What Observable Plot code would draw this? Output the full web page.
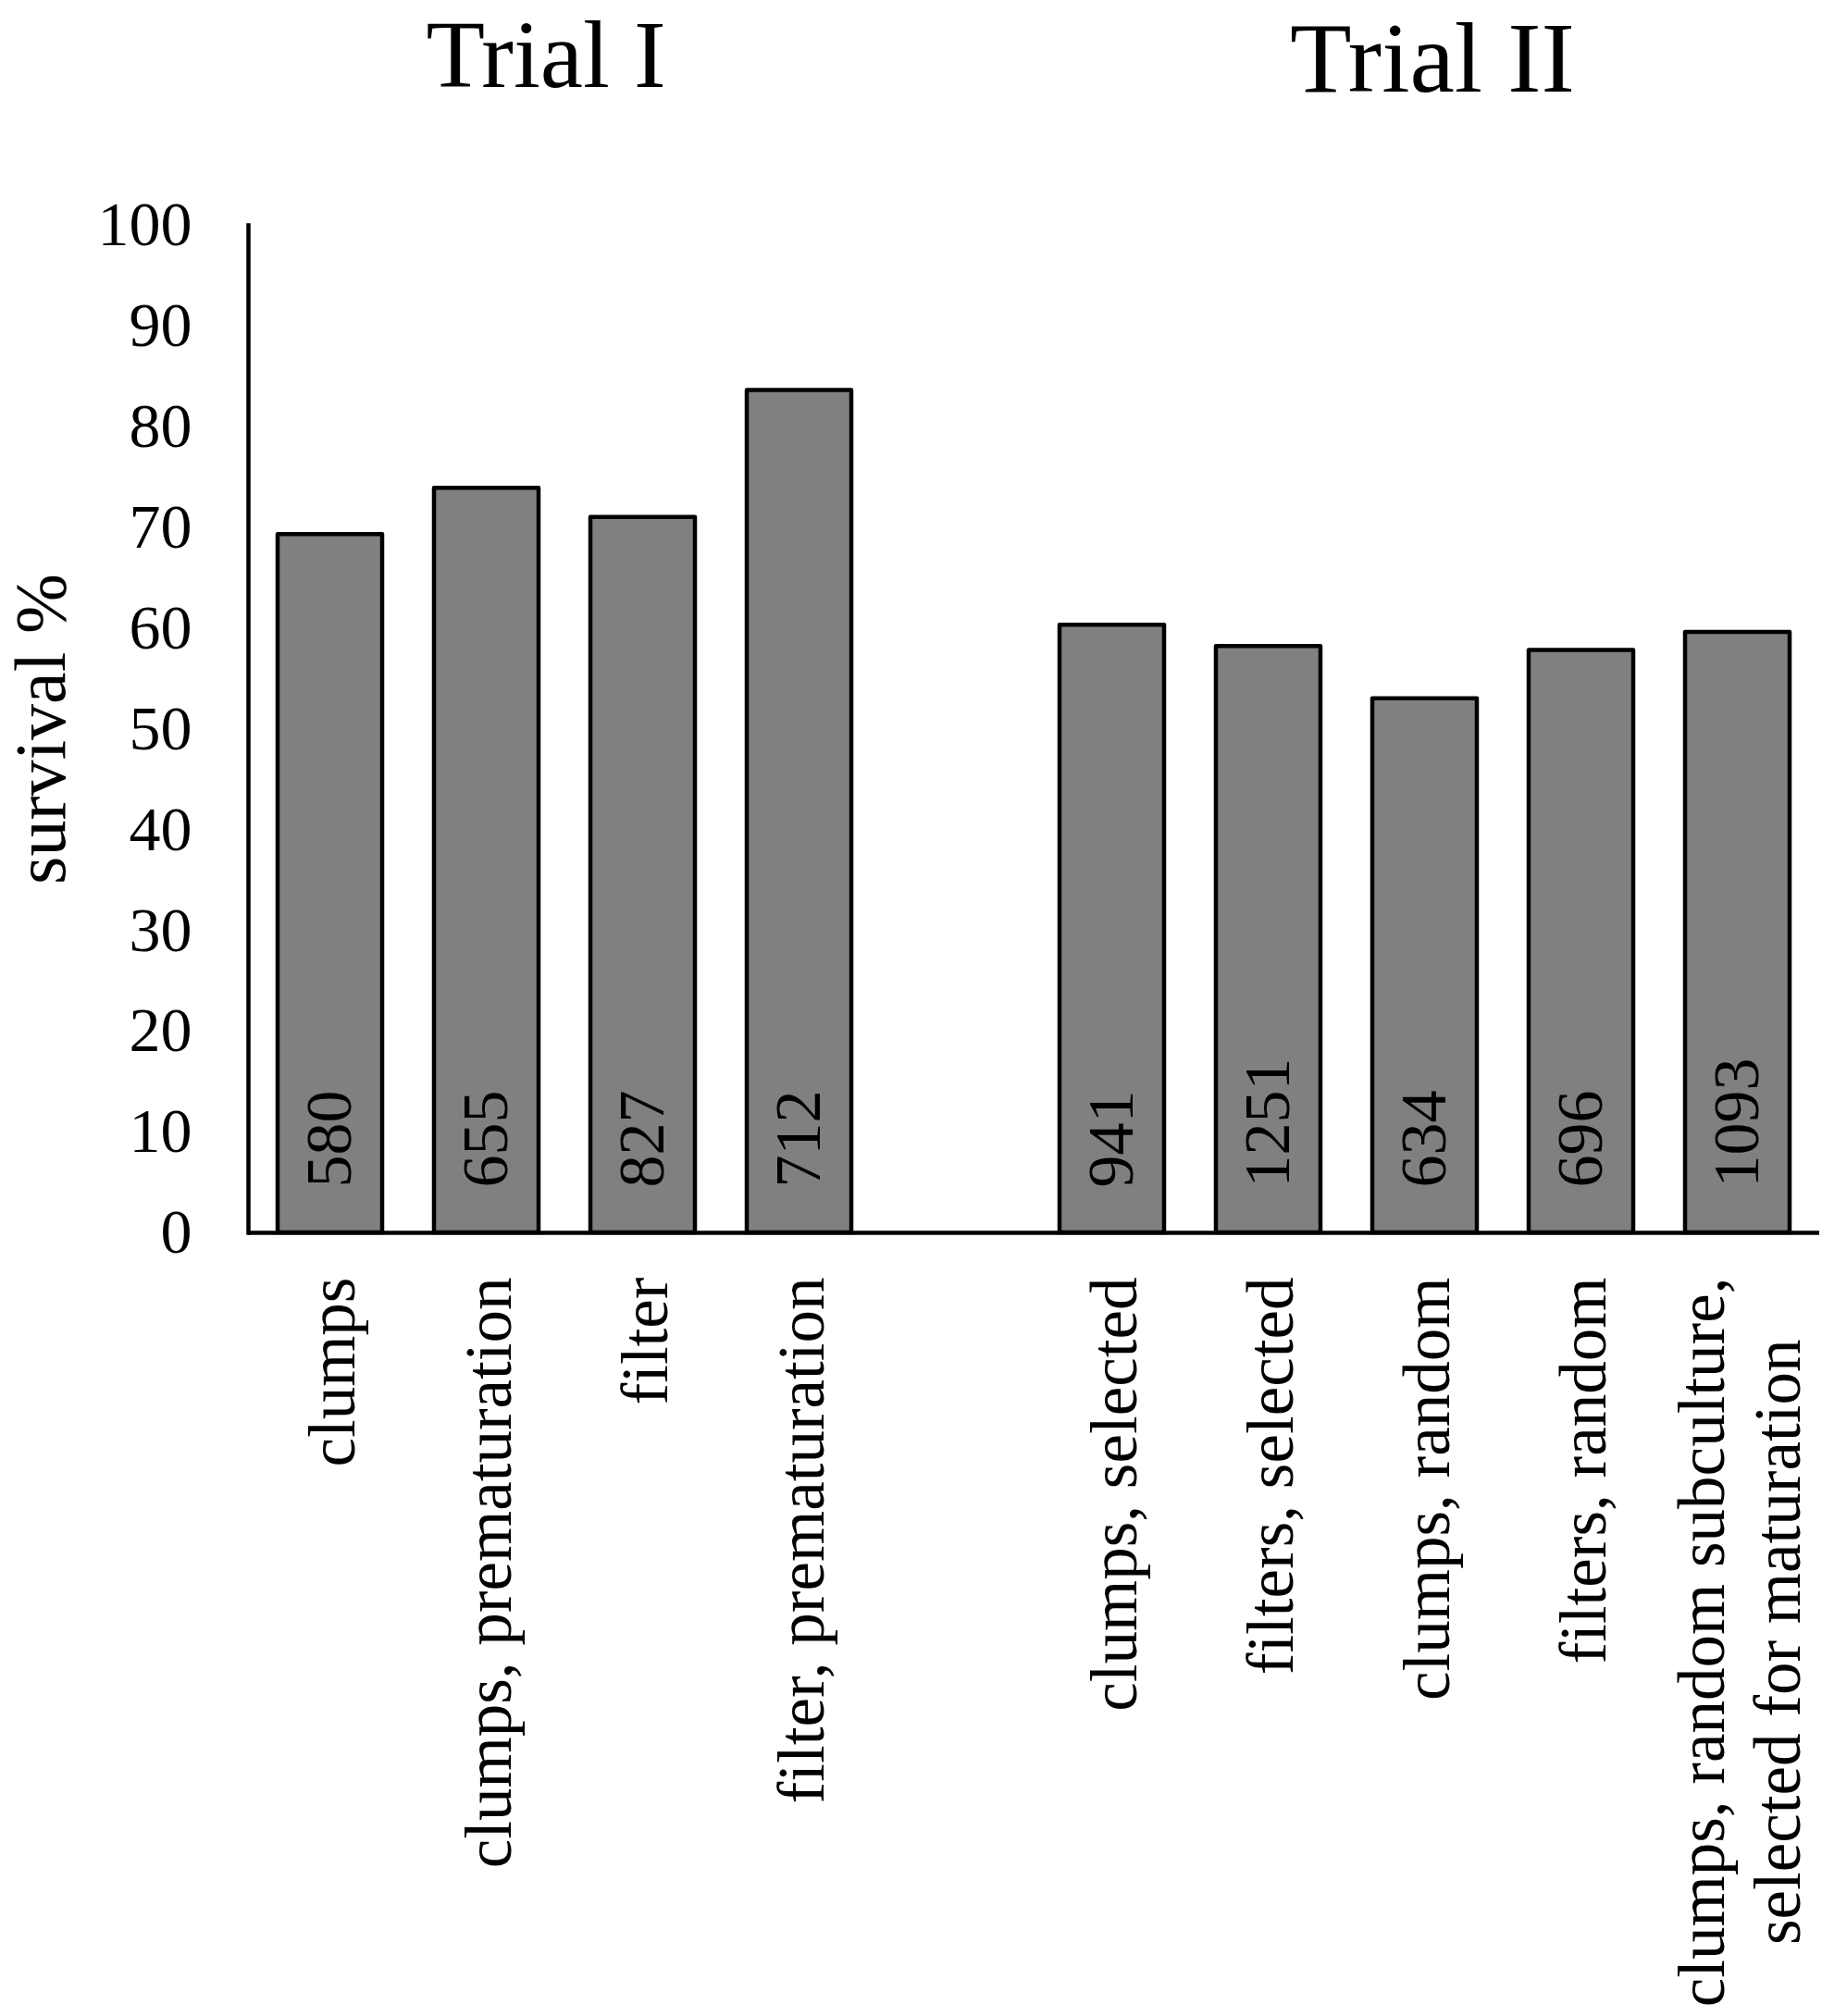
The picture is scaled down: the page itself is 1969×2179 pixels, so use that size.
<!DOCTYPE html>
<html>
<head>
<meta charset="utf-8">
<script src="https://cdn.jsdelivr.net/npm/d3@7"></script>
<script src="https://cdn.jsdelivr.net/npm/@observablehq/plot@0.6"></script>
<style>
  html, body { margin: 0; padding: 0; background: #ffffff; }
  svg { display: block; }
</style>
</head>
<body>
<div id="chart"></div>
<script>
// ---- data ----
const trial1Categories = ["clumps", "clumps, prematuration", "filter", "filter, prematuration"];
const trial1Survival = [69.3, 73.9, 71.0, 83.6];
const trial1Counts = [580, 655, 827, 712];

const trial2Categories = ["clumps, selected", "filters, selected", "clumps, random", "filters, random",
  "clumps, random subculture,\nselected for maturation"];
const trial2Survival = [60.3, 58.2, 53.0, 57.8, 59.6];
const trial2Counts = [941, 1251, 634, 696, 1093];

const gapCategory = "(gap)";               // empty slot between the two trials
const yTicks = [0, 10, 20, 30, 40, 50, 60, 70, 80, 90, 100];
const trialTitles = ["Trial I", "Trial II"];
const yLabel = "survival %";

// ---- tables built from the arrays ----
const bars = [
  ...trial1Categories.map((c, i) => ({category: c, survival: trial1Survival[i], n: trial1Counts[i]})),
  ...trial2Categories.map((c, i) => ({category: c, survival: trial2Survival[i], n: trial2Counts[i]}))
];
const xDomain = [...trial1Categories, gapCategory, ...trial2Categories];
const title1 = [{title: trialTitles[0], anchor: trial1Categories[1]}];
const title2 = [{title: trialTitles[1], anchor: trial2Categories[2]}];

const font = "'Liberation Serif', 'Times New Roman', Times, serif";

const chart = Plot.plot({
  width: 1969,
  height: 2179,
  marginLeft: 268,
  marginRight: 3,
  marginTop: 243,
  marginBottom: 847,
  style: {fontFamily: font, fontSize: "68px", color: "black", background: "white"},
  x: {type: "band", domain: xDomain, paddingInner: 0.33, paddingOuter: 0.17, axis: null},
  y: {domain: [0, 100], axis: null},
  marks: [
    Plot.barY(bars, {
      x: "category", y: "survival",
      fill: "#808080", stroke: "black", strokeWidth: 4.5, strokeLinejoin: "round"
    }),
    Plot.axisY({ticks: yTicks, tickSize: 0, tickPadding: 61, fontSize: 68, label: null, fill: "black"}),
    Plot.frame({anchor: "left", stroke: "black", strokeWidth: 4.5}),
    Plot.ruleY([0], {stroke: "black", strokeWidth: 4.5}),
    // sample sizes inside bars
    Plot.text(bars, {
      x: "category", y: 0, text: d => String(d.n),
      rotate: -90, textAnchor: "start", dy: -49, fontSize: 70, fill: "black"
    }),
    // category labels below axis
    Plot.text(bars, {
      x: "category", y: 0, text: "category",
      rotate: -90, textAnchor: "end", dy: 48, fontSize: 71, lineHeight: 1.15, fill: "black"
    }),
    // y axis title
    Plot.text([yLabel], {frameAnchor: "left", textAnchor: "middle", rotate: -90, dx: -223,
      fontSize: 78, fill: "black"}),
    // trial titles
    Plot.text(title1, {x: "anchor", text: "title", frameAnchor: "top", lineAnchor: "bottom",
      dx: 64, dy: -150, fontSize: 104, fill: "black"}),
    Plot.text(title2, {x: "anchor", text: "title", frameAnchor: "top", lineAnchor: "bottom",
      dx: 8, dy: -145, fontSize: 109, fill: "black"})
  ]
});

document.getElementById("chart").append(chart);

// centre the lines of multi-line category labels within their block (as in the reference)
chart.querySelectorAll("text").forEach(t => {
  const spans = t.querySelectorAll("tspan");
  if (spans.length > 1) {
    let w = 0;
    spans.forEach(s => { w = Math.max(w, s.getComputedTextLength()); });
    t.setAttribute("text-anchor", "middle");
    t.style.textAnchor = "middle";
    spans.forEach(s => s.setAttribute("x", String(-w / 2)));
  }
});
</script>
</body>
</html>
